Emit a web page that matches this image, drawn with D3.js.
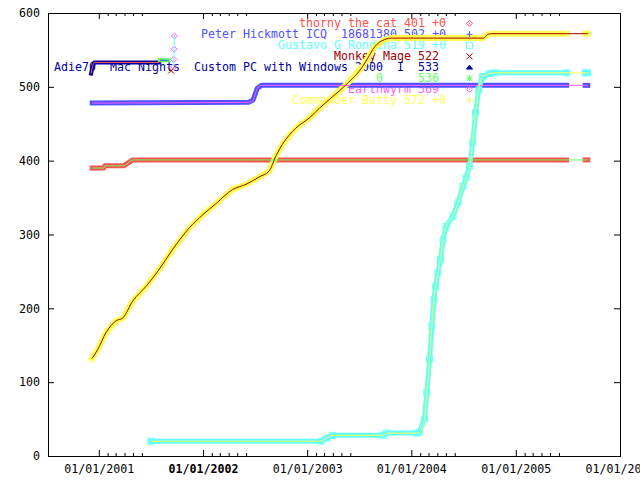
<!DOCTYPE html>
<html><head><meta charset="utf-8">
<script src="https://cdn.jsdelivr.net/npm/d3@7"></script>
<style>
body{margin:0;background:#fff}
svg text{font-family:"DejaVu Sans Mono","Liberation Mono",monospace;font-size:11.63px;white-space:pre}
</style>
</head><body>
<svg id="chart" width="640" height="480" xmlns="http://www.w3.org/2000/svg" xml:space="preserve"></svg>
<script>
// ---------------- data ----------------
const seriesLabels = [
  "thorny the cat 401 +0",
  "Peter Hickmott ICQ  18681380 502 +0",
  "Gustavo G Rondina 519 +0",
  "Monkey Mage 522 ",
  "Adie70  Mac Nights  Custom PC with Windows 2000  I  533 ",
  "0     536 ",
  "Earthwyrm 569 ",
  "Commander Butty 572 +0"
];

const thornyDates  = ["2000-12-09","2001-01-18","2001-01-22","2001-03-29","2001-04-30","2005-06-28","2005-09-01","2005-09-10"];
const thornyValues = [390,390,393,393,401,401,401,401];

const peterDates  = ["2000-12-09","2002-06-10","2002-06-25","2002-07-03","2002-07-10","2002-07-25","2005-06-28","2005-09-01","2005-09-10"];
const peterValues = [478,479,482,490,498,502,502,502,502];

const gustavoDates = ["2001-07-02","2003-02-19","2003-03-10","2003-03-31","2003-09-25","2003-10-05","2004-01-18","2004-01-29",
  "2004-02-16","2004-02-24","2004-03-05","2004-03-13","2004-03-20","2004-03-26","2004-04-03","2004-04-12","2004-04-21",
  "2004-05-02","2004-05-26","2004-06-12","2004-06-30","2004-07-11","2004-07-23","2004-08-03","2004-08-13","2004-08-24",
  "2004-09-07","2004-10-01","2004-10-20","2005-06-28","2005-09-01","2005-09-10"];
const gustavoValues = [20,20,24,28,28,31,31,32,
  50,86,131,176,212,230,248,266,293,
  311,325,343,365,377,392,424,465,496,
  514,518,519,519,519,519];

const monkeyDates  = ["2001-09-11"];
const monkeyValues = [522];

const adieDates  = ["2000-12-05","2000-12-10","2000-12-16","2001-07-30"];
const adieValues = [518,527,533,533];

const zeroDates  = ["2001-08-03","2001-09-03"];
const zeroValues = [536,536];

const earthDates  = ["2001-09-20","2001-09-21","2001-09-22","2001-09-23"];
const earthValues = [527,537,551,569];

const buttyDates = ["2000-12-08","2000-12-28","2001-01-26","2001-03-02","2001-03-26","2001-04-30","2001-06-16","2001-08-01",
  "2001-09-17","2001-11-14","2002-01-01","2002-02-16","2002-04-15","2002-06-01","2002-07-17","2002-08-21","2002-09-13",
  "2002-10-06","2002-11-22","2003-01-09","2003-02-13","2003-04-01","2003-05-18","2003-07-15","2003-07-31","2003-08-25",
  "2003-09-29","2003-10-24","2004-09-10","2004-09-24","2004-10-10","2005-06-28","2005-09-01","2005-09-10"];
const buttyValues = [132,144,167,183,187,210,230,253,
  280,309,327,342,361,368,378,386,406,
  422,444,458,471,487,503,528,538,554,
  564,566,566,571,572,572,572,572];

const dataGap = ["2005-07-10","2005-08-25"];   // no samples between these dates
const yTickValues = [0,100,200,300,400,500,600];
const xDomain = ["2000-07-07","2006-01-01"];

// ---------------- styles ----------------
const seriesColors = ["#ff5050","#5050ff","#60ffff","#a00000","#0000a0","#60ff60","#ff60ff","#ffff50"];
const thinColors   = ["#60ff60","#ff60ff","#ffff50",null,"#ff5050","#5050ff","#60ffff","#a00000"];
const bandWidths   = [5,5,5,0,4,4,0,6];
const symbols      = ["diamondDot","plus","squareDot","cross","triangle","star","diamondDot","plus"];
const markPoints   = [false,false,true,true,false,false,true,false];

// ---------------- build ----------------
const parse = d3.timeParse("%Y-%m-%d");
const raw = [
  [thornyDates,thornyValues],[peterDates,peterValues],[gustavoDates,gustavoValues],[monkeyDates,monkeyValues],
  [adieDates,adieValues],[zeroDates,zeroValues],[earthDates,earthValues],[buttyDates,buttyValues]
];
const series = raw.map(([ds,vs],i)=>({
  label: seriesLabels[i],
  points: ds.map((d,j)=>({date: parse(d), value: vs[j]}))
}));
const gapStart = parse(dataGap[0]), gapEnd = parse(dataGap[1]);

const svg = d3.select("#chart");
const L = 48, R = 620, T = 13, B = 456;
const x = d3.scaleTime().domain(xDomain.map(parse)).range([L, R]);
const y = d3.scaleLinear().domain([0, 600]).range([B, T]);

svg.append("rect").attr("width",640).attr("height",480).attr("fill","#fff");

// axes (ticks inward, mirrored)
const yearTicks = d3.timeYear.range(new Date(2001,0,1), new Date(2006,0,2));
const minorTicks = [];
for (let yr = 2001; yr <= 2005; yr++) for (let m = 1; m <= 5; m++) minorTicks.push(new Date(yr, m, 1));
const fmt = d3.timeFormat("%m/%d/%Y");

function styleAxis(g){ g.select(".domain").remove(); g.attr("font-family",null).attr("font-size",null); }

svg.append("g").attr("transform",`translate(0,${B})`)
  .call(d3.axisBottom(x).tickValues(yearTicks).tickSize(-6).tickPadding(8.5).tickFormat(fmt))
  .call(styleAxis)
  .call(g=>g.selectAll(".tick text").attr("font-weight", d => d.getFullYear()===2002 ? "bold" : null));
svg.append("g").attr("transform",`translate(0,${B})`)
  .call(d3.axisBottom(x).tickValues(minorTicks).tickSize(-3).tickFormat(""))
  .call(styleAxis);
svg.append("g").attr("transform",`translate(0,${T})`)
  .call(d3.axisTop(x).tickValues(yearTicks).tickSize(-6).tickFormat(""))
  .call(styleAxis);
svg.append("g").attr("transform",`translate(0,${T})`)
  .call(d3.axisTop(x).tickValues(minorTicks).tickSize(-3).tickFormat(""))
  .call(styleAxis);
svg.append("g").attr("transform",`translate(${L},0)`)
  .call(d3.axisLeft(y).tickValues(yTickValues).tickSize(-6).tickPadding(8))
  .call(styleAxis);
svg.append("g").attr("transform",`translate(${R},0)`)
  .call(d3.axisRight(y).tickValues(yTickValues).tickSize(-6).tickFormat(""))
  .call(styleAxis);

svg.append("rect").attr("x",L+0.5).attr("y",T+0.5).attr("width",R-L).attr("height",B-T)
  .attr("fill","none").attr("stroke","#000").attr("stroke-width",1);

// legend text (drawn under the data, as in the original)
const legendX = 446, legendSymX = 469.5, legendY0 = 23.3, legendDY = 11;
svg.append("g").selectAll("text").data(series).join("text")
  .attr("x", legendX).attr("y",(d,i)=>legendY0 + i*legendDY + 4)
  .attr("text-anchor","end").attr("fill",(d,i)=>seriesColors[i])
  .text(d=>d.label);

function symbolPath(type, s){
  switch(type){
    case "diamond": case "diamondDot": return `M0,${-s}L${s},0L0,${s}L${-s},0Z`;
    case "square": case "squareDot": return `M${-s},${-s}H${s}V${s}H${-s}Z`;
    case "plus": return `M${-s},0H${s}M0,${-s}V${s}`;
    case "cross": return `M${-s},${-s}L${s},${s}M${-s},${s}L${s},${-s}`;
    case "star": return `M${-s},0H${s}M0,${-s}V${s}M${-s},${-s}L${s},${s}M${-s},${s}L${s},${-s}`;
    case "triangle": return `M0,${-s*0.7}L${s},${s*0.6}L${-s},${s*0.6}Z`;
  }
}
function drawSymbol(g, type, cx, cy, color, s){
  const filled = type === "triangle";
  g.append("path").attr("d", symbolPath(type, s))
    .attr("transform",`translate(${cx},${cy})`)
    .attr("fill", filled ? color : "none").attr("stroke", color).attr("stroke-width",1);
  if (type.endsWith("Dot")) g.append("rect").attr("x",cx-0.5).attr("y",cy-0.5).attr("width",1).attr("height",1).attr("fill",color);
}

// data
const band = d3.line().x(d=>x(d.date)).y(d=>y(d.value));
const thin = d3.line().x(d=>x(d.date)).y(d=>y(d.value)).curve(d3.curveMonotoneX);
function splitAtGap(pts){
  const segs=[[]];
  pts.forEach((p,i)=>{ if(i>0 && pts[i-1].date < gapStart && p.date > gapEnd) segs.push([]); segs[segs.length-1].push(p); });
  return segs;
}
const plot = svg.append("g");
series.forEach((s,i)=>{
  if (bandWidths[i] > 0) {
    splitAtGap(s.points).forEach(seg=>{
      plot.append("path").attr("d", band(seg)).attr("fill","none")
        .attr("stroke", seriesColors[i]).attr("stroke-width", bandWidths[i])
        .attr("stroke-linecap","square").attr("stroke-linejoin","round");
    });
  }
  if (markPoints[i]) {
    const mg = plot.append("g");
    s.points.forEach(p=>drawSymbol(mg, symbols[i], x(p.date), y(p.value), seriesColors[i], 3));
  }
});
series.forEach((s,i)=>{
  if (thinColors[i] && s.points.length > 1) {
    plot.append("path").attr("d", thin(s.points)).attr("fill","none")
      .attr("stroke", thinColors[i]).attr("stroke-width",1);
  }
});

// legend symbols
const lg = svg.append("g");
series.forEach((s,i)=>drawSymbol(lg, symbols[i], legendSymX, legendY0 + i*legendDY, seriesColors[i], 3));
</script>
</body></html>
